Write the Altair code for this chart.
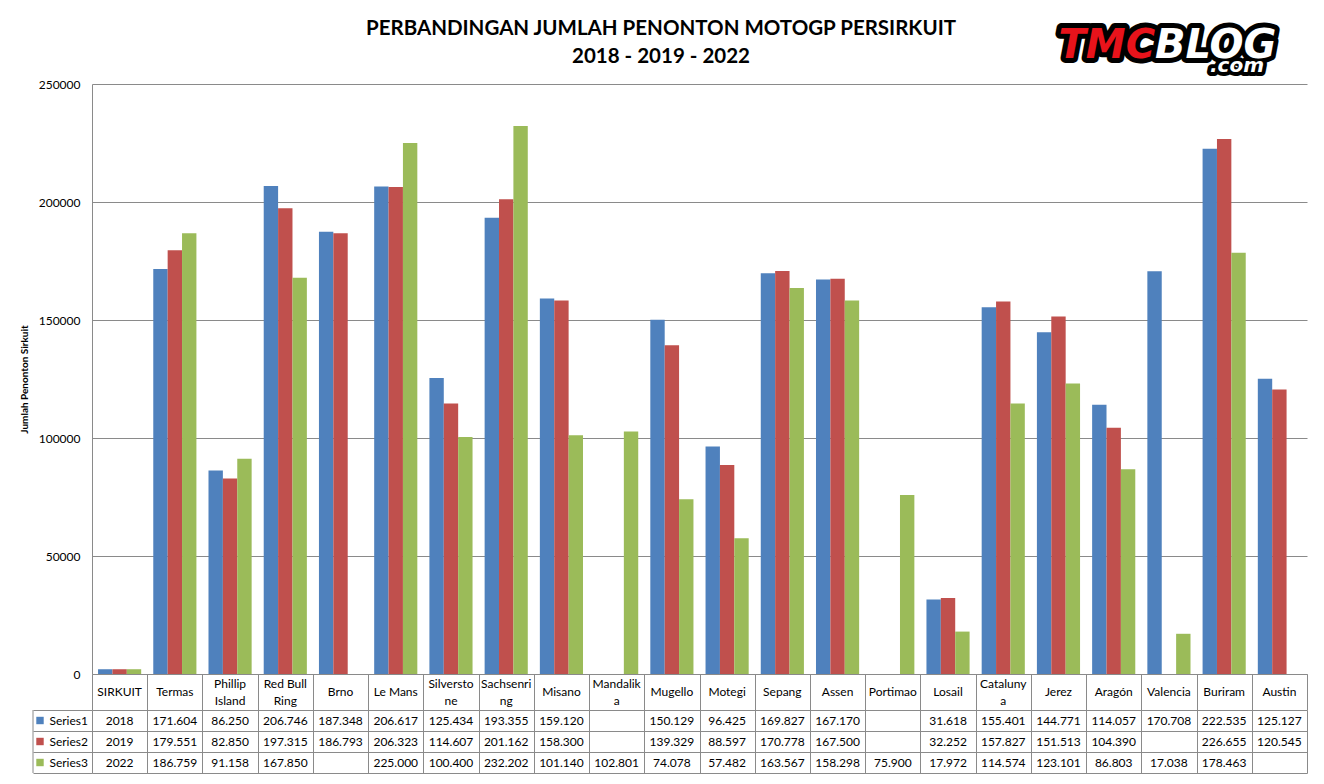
import altair as alt
import pandas as pd

categories = ["SIRKUIT", "Termas", "Phillip Island", "Red Bull Ring", "Brno", "Le Mans",
              "Silverstone", "Sachsenring", "Misano", "Mandalika", "Mugello", "Motegi",
              "Sepang", "Assen", "Portimao", "Losail", "Catalunya", "Jerez", "Aragón",
              "Valencia", "Buriram", "Austin"]
header_labels = ["SIRKUIT", "Termas", "Phillip\nIsland", "Red Bull\nRing", "Brno", "Le Mans",
                 "Silversto\nne", "Sachsenri\nng", "Misano", "Mandalik\na", "Mugello", "Motegi",
                 "Sepang", "Assen", "Portimao", "Losail", "Cataluny\na", "Jerez", "Aragón",
                 "Valencia", "Buriram", "Austin"]
series_names = ["Series1", "Series2", "Series3"]
series1 = [2018, 171604, 86250, 206746, 187348, 206617, 125434, 193355, 159120, None,
           150129, 96425, 169827, 167170, None, 31618, 155401, 144771, 114057, 170708,
           222535, 125127]
series2 = [2019, 179551, 82850, 197315, 186793, 206323, 114607, 201162, 158300, None,
           139329, 88597, 170778, 167500, None, 32252, 157827, 151513, 104390, None,
           226655, 120545]
series3 = [2022, 186759, 91158, 167850, None, 225000, 100400, 232202, 101140, 102801,
           74078, 57482, 163567, 158298, 75900, 17972, 114574, 123101, 86803, 17038,
           178463, None]
colors = ["#4F81BD", "#C0504D", "#9BBB59"]
y_ticks = [0, 50000, 100000, 150000, 200000, 250000]
title_text = "PERBANDINGAN JUMLAH PENONTON MOTOGP PERSIRKUIT\n2018 - 2019 - 2022"
y_title = "Jumlah Penonton Sirkuit"


def fmt(v):
    if v is None:
        return ""
    if v < 10000:
        return str(v)
    return f"{v:,}".replace(",", ".")


rows = []
for s, vals in zip(series_names, [series1, series2, series3]):
    for c, v in zip(categories, vals):
        rows.append({"category": c, "series": s, "value": v, "label": fmt(v)})
df = pd.DataFrame(rows)
df_bars = df.dropna(subset=["value"])
df_head = pd.DataFrame({"category": categories, "header": header_labels})
df_head["lines"] = df_head["header"].str.count("\n") + 1
df_head1 = df_head[df_head["lines"] == 1]
df_head2 = df_head[df_head["lines"] == 2]
df_leg = pd.DataFrame({"series": series_names})
df_title = pd.DataFrame({"t": [title_text]})
df_logo = pd.DataFrame({"a": ["TMC"], "b": ["BLOG"], "c": [".com"]})
df_one = pd.DataFrame({"k": [1]})

FONT = "Lato"
GRID = "#8a8a8a"
W, H, HEAD, TAB_H = 1215, 590, 36, 63
LH = 17

color_enc = alt.Color("series:N", scale=alt.Scale(domain=series_names, range=colors), legend=None)

x_bar = alt.X("category:N", sort=categories,
              scale=alt.Scale(paddingInner=0, paddingOuter=0),
              axis=alt.Axis(title=None, labels=False, ticks=True, tickBand="extent",
                            tickSize=HEAD, tickColor=GRID, domainColor=GRID, grid=False))

bars = alt.Chart(df_bars).mark_bar().encode(
    x=x_bar,
    xOffset=alt.XOffset("series:N", sort=series_names,
                        scale=alt.Scale(paddingOuter=0.42, paddingInner=0)),
    y=alt.Y("value:Q", scale=alt.Scale(domain=[0, 250000], nice=False),
            axis=alt.Axis(values=y_ticks, format="d", title=y_title,
                          titleFont=FONT, titleFontSize=10, titleFontWeight="bold",
                          titleColor="black", titlePadding=9,
                          labelFont=FONT, labelFontSize=12, labelColor="black",
                          labelPadding=12, ticks=False, grid=True, gridColor=GRID,
                          domainColor=GRID)),
    color=color_enc,
)

head1 = alt.Chart(df_head1).mark_text(font=FONT, fontSize=12, baseline="middle",
                                      color="black").encode(
    x=x_bar, y=alt.value(H + HEAD / 2), text="header:N")
head2 = alt.Chart(df_head2).mark_text(font=FONT, fontSize=12, baseline="middle",
                                      lineBreak="\n", lineHeight=LH, color="black").encode(
    x=x_bar, y=alt.value(H + HEAD / 2 - LH / 2), text="header:N")

title = alt.Chart(df_title).mark_text(font=FONT, fontSize=20.5, fontWeight="bold",
                                      baseline="middle", lineBreak="\n", lineHeight=28,
                                      color="black").encode(
    x=alt.value(569), y=alt.value(-55), text="t:N")

LX = 1063
LY = -38
logo_common = dict(font="DejaVu Sans", fontWeight="bold", fontStyle="italic",
                   baseline="middle")
logo_bg_a = alt.Chart(df_logo).mark_text(fontSize=40, align="right", fill="black",
                                         stroke="black", strokeWidth=10,
                                         strokeJoin="round", **logo_common).encode(
    text="a:N", x=alt.value(LX), y=alt.value(LY))
logo_bg_b = alt.Chart(df_logo).mark_text(fontSize=40, align="left", fill="black",
                                         stroke="black", strokeWidth=10,
                                         strokeJoin="round", **logo_common).encode(
    text="b:N", x=alt.value(LX), y=alt.value(LY))
logo_bg_c = alt.Chart(df_logo).mark_text(fontSize=20, align="left", fill="black",
                                         stroke="black", strokeWidth=8,
                                         strokeJoin="round", **logo_common).encode(
    text="c:N", x=alt.value(1118), y=alt.value(LY + 20))
logo_a = alt.Chart(df_logo).mark_text(fontSize=40, align="right", fill="#E8131B",
                                      **logo_common).encode(
    text="a:N", x=alt.value(LX), y=alt.value(LY))
logo_b = alt.Chart(df_logo).mark_text(fontSize=40, align="left", fill="white",
                                      **logo_common).encode(
    text="b:N", x=alt.value(LX), y=alt.value(LY))
logo_c = alt.Chart(df_logo).mark_text(fontSize=20, align="left", fill="white",
                                      **logo_common).encode(
    text="c:N", x=alt.value(1118), y=alt.value(LY + 20))

top = alt.layer(bars, head1, head2, title, logo_bg_a, logo_bg_b, logo_bg_c,
                logo_a, logo_b, logo_c).properties(width=W, height=H)

x_tab = alt.X("category:N", sort=categories,
              scale=alt.Scale(paddingInner=0, paddingOuter=0),
              axis=alt.Axis(title=None, labels=False, ticks=False, domain=False,
                            grid=True, tickBand="extent", gridColor=GRID))
y_tab = alt.Y("series:N", sort=series_names,
              scale=alt.Scale(paddingInner=0, paddingOuter=0),
              axis=alt.Axis(title=None, labels=False, ticks=True, tickSize=59,
                            tickBand="extent", tickColor=GRID, domain=False,
                            grid=True, gridColor=GRID))

cells = alt.Chart(df).mark_text(font=FONT, fontSize=12, color="black").encode(
    x=x_tab, y=y_tab, text="label:N")
leg_sq = alt.Chart(df_leg).mark_square(size=55, opacity=1, filled=True).encode(
    x=alt.value(-52), y=y_tab, color=color_enc)
leg_txt = alt.Chart(df_leg).mark_text(font=FONT, fontSize=12, align="right",
                                      color="black").encode(
    x=alt.value(-4), y=y_tab, text="series:N")
leg_rule = alt.Chart(df_one).mark_rule(color=GRID).encode(
    x=alt.value(-59), y=alt.value(0), y2=alt.value(TAB_H))

table = alt.layer(cells, leg_sq, leg_txt, leg_rule).properties(width=W, height=TAB_H)

chart = alt.vconcat(top, table, spacing=HEAD, bounds="flush").properties(
    padding={"left": 11, "top": 11, "right": 2, "bottom": 0}
).configure_view(stroke=None)

chart.save("out.html", embed_options={"renderer": "svg", "actions": False})
